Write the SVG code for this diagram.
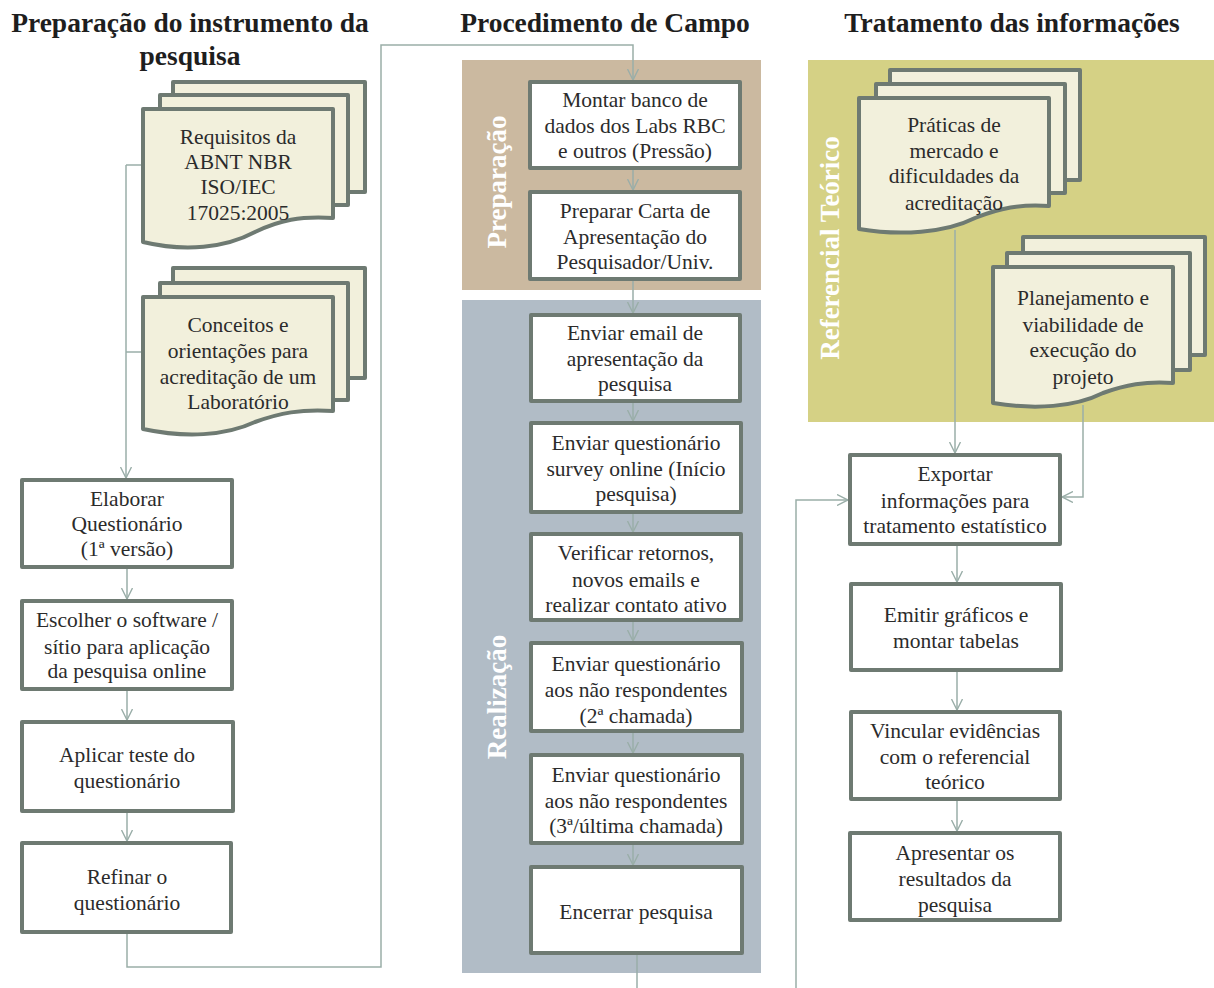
<svg xmlns="http://www.w3.org/2000/svg" width="1214" height="988" viewBox="0 0 1214 988">
<defs>
<marker id="arr" viewBox="0 0 12 12" refX="11" refY="6" markerWidth="12" markerHeight="12" markerUnits="userSpaceOnUse" orient="auto">
<path d="M0,0.5 L11,6 L0,11.5" fill="none" stroke="#9aaea8" stroke-width="1.4"/>
</marker>
</defs>
<style>
.box{fill:#ffffff;stroke:#6e7a72;stroke-width:4;stroke-linejoin:round}
.doc{fill:#f2f0dc;stroke:#6e7a72;stroke-width:4;stroke-linejoin:round}
.t{font-family:"Liberation Serif","Times New Roman",serif;font-size:21.5px;fill:#2b2b2b;text-anchor:middle}
.h{font-family:"Liberation Serif","Times New Roman",serif;font-size:27.5px;font-weight:bold;fill:#1e1e1e;text-anchor:middle}
.lab{font-family:"Liberation Serif","Times New Roman",serif;font-size:27px;font-weight:bold;fill:#ffffff;text-anchor:middle}
.c{fill:none;stroke:#9aaea8;stroke-width:1.5}
.ca{fill:none;stroke:#9aaea8;stroke-width:1.5;marker-end:url(#arr)}
</style>
<rect width="1214" height="988" fill="#ffffff"/>

<g id="titles">
<text class="h" x="190" y="32">Preparação do instrumento da</text>
<text class="h" x="190" y="65">pesquisa</text>
<text class="h" x="605" y="32">Procedimento de Campo</text>
<text class="h" x="1012" y="32">Tratamento das informações</text>
</g>

<g id="panels">
<rect x="462" y="60" width="299" height="230" fill="#cbb9a0"/>
<rect x="462" y="300" width="299" height="673" fill="#b1bcc6"/>
<rect x="808" y="60" width="406" height="362" fill="#d5d185"/>
<text class="lab" transform="translate(506,182) rotate(-90)">Preparação</text>
<text class="lab" transform="translate(506,697) rotate(-90)">Realização</text>
<text class="lab" transform="translate(839,248) rotate(-90)">Referencial Teórico</text>
</g>

<g id="connectors">
<path class="ca" d="M126,165 V478"/>
<path class="c" d="M126,165 H143"/>
<path class="c" d="M126,352 H143"/>
<path class="ca" d="M127,567 V599"/>
<path class="ca" d="M127,689 V720"/>
<path class="ca" d="M127,811 V841"/>
<path class="ca" d="M127,932 V967 H381 V45 H633 V80"/>
<path class="ca" d="M633,168 V190"/>
<path class="ca" d="M633,279 V313"/>
<path class="ca" d="M633,401 V421"/>
<path class="ca" d="M633,512 V532"/>
<path class="ca" d="M633,620 V641"/>
<path class="ca" d="M633,731 V753"/>
<path class="ca" d="M633,843 V865"/>
<path class="c" d="M637,953 V988"/>
<path class="ca" d="M657,757 V774"/>
<path class="ca" d="M955,230 V453"/>
<path class="ca" d="M1083,405 V497 H1062"/>
<path class="ca" d="M796,988 V500 H848"/>
<path class="ca" d="M957,544 V582"/>
<path class="ca" d="M957,670 V710"/>
<path class="ca" d="M957,799 V831"/>
</g>

<g id="doc-requisitos">
<rect class="doc" x="173" y="82" width="192" height="110"/>
<rect class="doc" x="160" y="95" width="188" height="110"/>
<path class="doc" d="M143,109 H333 V218 C300,216 280,220 255,232 C225,248 185,252 143,242 Z"/>
<text class="t" x="238" y="144">Requisitos da</text>
<text class="t" x="238" y="169">ABNT NBR</text>
<text class="t" x="238" y="194">ISO/IEC</text>
<text class="t" x="238" y="220">17025:2005</text>
</g>

<g id="doc-conceitos">
<rect class="doc" x="173" y="268" width="192" height="110"/>
<rect class="doc" x="160" y="283" width="188" height="117"/>
<path class="doc" d="M143,297 H333 V411 C300,409 280,413 255,422 C225,436 185,438 143,429 Z"/>
<text class="t" x="238" y="332">Conceitos e</text>
<text class="t" x="238" y="358">orientações para</text>
<text class="t" x="238" y="384">acreditação de um</text>
<text class="t" x="238" y="409">Laboratório</text>
</g>

<g id="n-elaborar">
<rect class="box" x="22" y="480" width="210" height="87"/>
<text class="t" x="127" y="506">Elaborar</text>
<text class="t" x="127" y="531">Questionário</text>
<text class="t" x="127" y="556">(1ª versão)</text>
</g>
<g id="n-escolher">
<rect class="box" x="22" y="601" width="210" height="88"/>
<text class="t" x="127" y="627">Escolher o software /</text>
<text class="t" x="127" y="654">sítio para aplicação</text>
<text class="t" x="127" y="678">da pesquisa online</text>
</g>
<g id="n-aplicar">
<rect class="box" x="22" y="722" width="211" height="89"/>
<text class="t" x="127" y="762">Aplicar teste do</text>
<text class="t" x="127" y="788">questionário</text>
</g>
<g id="n-refinar">
<rect class="box" x="22" y="843" width="209" height="89"/>
<text class="t" x="127" y="884">Refinar o</text>
<text class="t" x="127" y="910">questionário</text>
</g>

<g id="n-montar">
<rect class="box" x="530" y="82" width="210" height="86"/>
<text class="t" x="635" y="107">Montar banco de</text>
<text class="t" x="635" y="133">dados dos Labs RBC</text>
<text class="t" x="635" y="158">e outros (Pressão)</text>
</g>
<g id="n-preparar">
<rect class="box" x="530" y="192" width="210" height="87"/>
<text class="t" x="635" y="218">Preparar Carta de</text>
<text class="t" x="635" y="244">Apresentação do</text>
<text class="t" x="635" y="269">Pesquisador/Univ.</text>
</g>
<g id="n-email">
<rect class="box" x="531" y="315" width="209" height="86"/>
<text class="t" x="635" y="340">Enviar email de</text>
<text class="t" x="635" y="366">apresentação da</text>
<text class="t" x="635" y="391">pesquisa</text>
</g>
<g id="n-survey">
<rect class="box" x="531" y="423" width="210" height="89"/>
<text class="t" x="636" y="450">Enviar questionário</text>
<text class="t" x="636" y="476">survey online (Início</text>
<text class="t" x="636" y="501">pesquisa)</text>
</g>
<g id="n-verificar">
<rect class="box" x="531" y="534" width="210" height="86"/>
<text class="t" x="636" y="560">Verificar retornos,</text>
<text class="t" x="636" y="587">novos emails e</text>
<text class="t" x="636" y="612">realizar contato ativo</text>
</g>
<g id="n-segunda">
<rect class="box" x="531" y="643" width="211" height="88"/>
<text class="t" x="636" y="671">Enviar questionário</text>
<text class="t" x="636" y="697">aos não respondentes</text>
<text class="t" x="636" y="723">(2ª chamada)</text>
</g>
<g id="n-terceira">
<rect class="box" x="531" y="755" width="211" height="88"/>
<text class="t" x="636" y="782">Enviar questionário</text>
<text class="t" x="636" y="808">aos não respondentes</text>
<text class="t" x="636" y="833">(3ª/última chamada)</text>
</g>
<g id="n-encerrar">
<rect class="box" x="531" y="867" width="211" height="86"/>
<text class="t" x="636" y="919">Encerrar pesquisa</text>
</g>

<g id="doc-praticas">
<rect class="doc" x="890" y="70" width="190" height="110"/>
<rect class="doc" x="876" y="84" width="189" height="109"/>
<path class="doc" d="M859,98 H1049 V206 C1020,204 1000,208 975,218 C945,233 900,236 859,229 Z"/>
<text class="t" x="954" y="132">Práticas de</text>
<text class="t" x="954" y="158">mercado e</text>
<text class="t" x="954" y="183">dificuldades da</text>
<text class="t" x="954" y="210">acreditação</text>
</g>

<g id="doc-planejamento">
<rect class="doc" x="1023" y="237" width="182" height="118"/>
<rect class="doc" x="1007" y="253" width="183" height="117"/>
<path class="doc" d="M993,267 H1173 V383 C1145,381 1125,385 1103,393 C1075,407 1035,410 993,403 Z"/>
<text class="t" x="1083" y="305">Planejamento e</text>
<text class="t" x="1083" y="332">viabilidade de</text>
<text class="t" x="1083" y="357">execução do</text>
<text class="t" x="1083" y="384">projeto</text>
</g>

<g id="n-exportar">
<rect class="box" x="850" y="455" width="210" height="89"/>
<text class="t" x="955" y="481">Exportar</text>
<text class="t" x="955" y="508">informações para</text>
<text class="t" x="955" y="533">tratamento estatístico</text>
</g>
<g id="n-emitir">
<rect class="box" x="851" y="584" width="210" height="86"/>
<text class="t" x="956" y="622">Emitir gráficos e</text>
<text class="t" x="956" y="648">montar tabelas</text>
</g>
<g id="n-vincular">
<rect class="box" x="851" y="712" width="209" height="87"/>
<text class="t" x="955" y="738">Vincular evidências</text>
<text class="t" x="955" y="764">com o referencial</text>
<text class="t" x="955" y="789">teórico</text>
</g>
<g id="n-apresentar">
<rect class="box" x="850" y="833" width="210" height="87"/>
<text class="t" x="955" y="860">Apresentar os</text>
<text class="t" x="955" y="886">resultados da</text>
<text class="t" x="955" y="912">pesquisa</text>
</g>
</svg>
